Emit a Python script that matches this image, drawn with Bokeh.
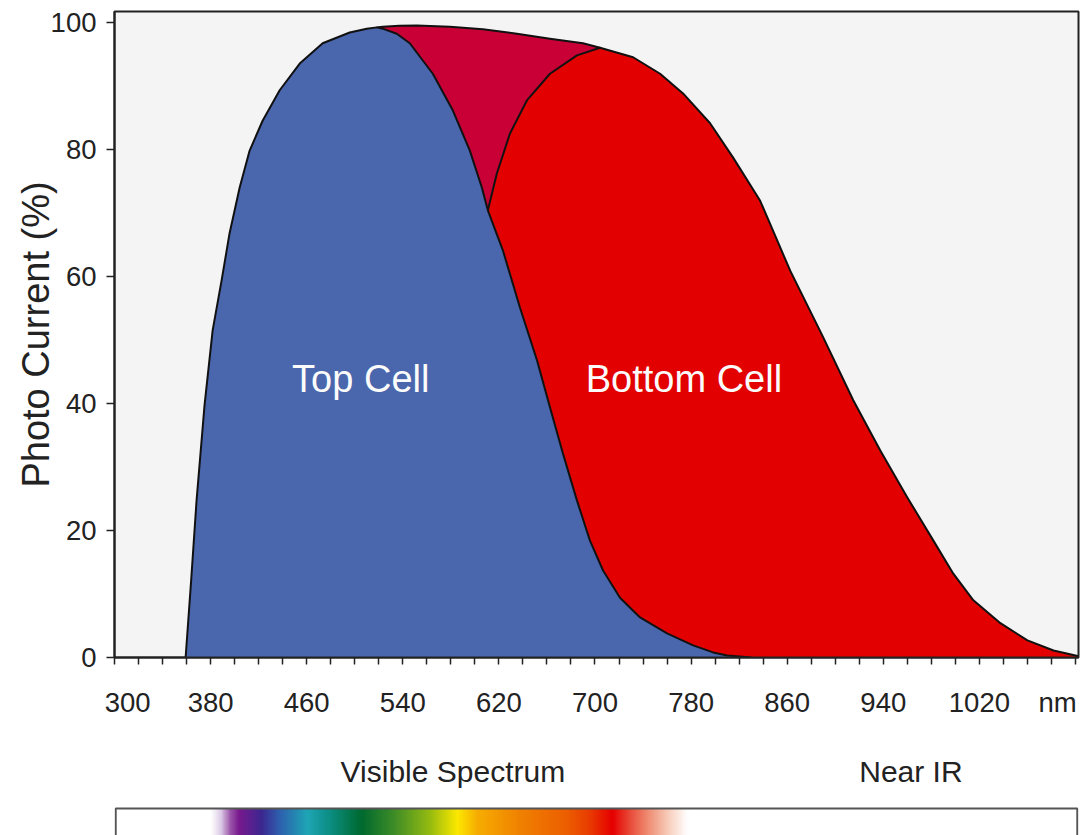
from bokeh.plotting import figure
from bokeh.models import Range1d, FixedTicker
from bokeh.layouts import column
from bokeh.embed import file_html
from bokeh.resources import INLINE
from bokeh.core.properties import value

# ---------------- data ----------------
# Top cell photo current (%) vs wavelength (nm)
top_nm = [359.2, 363.8, 368.3, 375.0, 381.7, 389.2, 395.8, 404.2, 412.5, 423.3,
          437.5, 454.2, 473.3, 495.8, 510.0, 518.3, 523.3, 535.0, 545.8, 565.0,
          581.7, 595.8, 605.8, 610.8, 623.3, 637.5, 651.7, 662.5, 673.3, 685.0,
          695.8, 706.7, 720.8, 737.5, 760.0, 781.7, 798.3, 810.0, 830.0]
top_pc = [0.0, 12.1, 24.7, 39.8, 51.5, 59.4, 66.8, 74.0, 79.8, 84.5,
          89.3, 93.5, 96.7, 98.4, 99.0, 99.2, 99.0, 98.2, 96.7, 91.9,
          86.1, 79.8, 74.0, 70.4, 64.1, 55.1, 46.8, 39.4, 32.1, 24.7,
          18.4, 13.7, 9.4, 6.3, 3.8, 1.9, 0.8, 0.3, 0.0]

# Bottom cell photo current (%) vs wavelength (nm)
bot_nm = [575.0, 580.0, 588.0, 596.0, 604.0, 610.8, 618.3, 629.2, 643.3, 662.5,
          685.0, 704.2, 731.7, 754.2, 773.3, 795.8, 815.0, 837.5, 862.5, 890.0,
          915.0, 937.5, 960.0, 981.7, 998.3, 1015.0, 1037.5, 1060.0, 1081.7, 1100.0, 1102.5]
bot_pc = [0.0, 8.0, 30.0, 50.0, 63.0, 70.4, 76.2, 82.5, 87.7, 91.9,
          94.8, 96.0, 94.5, 91.9, 88.8, 84.1, 78.7, 71.9, 60.9, 50.4,
          40.5, 32.6, 25.2, 18.4, 13.2, 9.0, 5.4, 2.7, 1.1, 0.3, 0.2]

# Combined envelope over the overlap region
env_nm = [518.3, 523.3, 537.0, 551.7, 579.2, 606.7, 635.0, 662.5, 690.0, 704.2]
env_pc = [99.2, 99.3, 99.45, 99.5, 99.3, 98.9, 98.2, 97.4, 96.7, 96.0]

# axis ticks
y_ticks = [0, 20, 40, 60, 80, 100]
x_tick_labels = ["300", "380", "460", "540", "620", "700", "780", "860", "940", "1020", "nm"]
x_label_pos = [311, 380, 460, 540, 620, 700, 780, 860, 940, 1020, 1085]
x_minor = list(range(300, 1101, 20))

# cell labels
cell_names = ["Top Cell", "Bottom Cell"]
cell_x = [505, 774]
cell_y = [43.9, 43.9]

# spectrum bar colour stops (nm, colour)
spec_nm = [380.8, 389.0, 397.0, 404.0, 423.0, 437.5, 461.0, 479.0, 506.0, 533.0,
           562.5, 586.0, 602.0, 637.5, 677.0, 696.0, 715.0, 727.5, 744.0, 761.0, 777.5]
spec_col = ["#ffffff", "#dccbe6", "#9a56aa", "#7a1a8e", "#3c2890", "#2f5fae", "#1fa5b5",
            "#0d8f85", "#006a30", "#3e8c28", "#94ba12", "#fce800", "#f6ae00", "#f08200",
            "#ec5e00", "#e83c00", "#e60000", "#e84232", "#ef8a70", "#f7cbb8", "#ffffff"]

region_names = ["Visible Spectrum", "Near IR"]
region_x = [581.7, 963.0]

FONT = "Liberation Sans"
BLUE = "#4a66ac"
RED = "#e20000"
CRIMSON = "#c80036"
EDGE = "#111111"

# ---------------- main plot ----------------
p1 = figure(width=1088, height=730, x_range=Range1d(300, 1102.5), y_range=Range1d(0, 101.7),
            output_backend="svg", toolbar_location=None,
            min_border_left=114, min_border_right=10, min_border_top=11, min_border_bottom=73)
p1.background_fill_color = "#f4f4f4"
p1.border_fill_color = "white"
p1.xgrid.visible = False
p1.ygrid.visible = False
p1.outline_line_color = "#222222"
p1.outline_line_width = 2

p1.varea(x=env_nm, y1=0, y2=env_pc, fill_color=CRIMSON)
p1.line(env_nm, env_pc, line_color=EDGE, line_width=2, line_join="round")
p1.varea(x=bot_nm, y1=0, y2=bot_pc, fill_color=RED)
p1.line(bot_nm, bot_pc, line_color=EDGE, line_width=2, line_join="round")
p1.varea(x=top_nm, y1=0, y2=top_pc, fill_color=BLUE)
p1.line(top_nm, top_pc, line_color=EDGE, line_width=2, line_join="round")

p1.text(x=cell_x, y=cell_y, text=cell_names, text_align="center", text_baseline="middle",
        text_font=value(FONT), text_font_size="38px", text_color="#fbfbfb")

xa = p1.xaxis[0]
xa.ticker = FixedTicker(ticks=x_label_pos, minor_ticks=x_minor)
xa.major_label_overrides = {pos: lab for pos, lab in zip(x_label_pos, x_tick_labels)}
xa.major_tick_line_color = None
xa.major_tick_out = 7
xa.major_tick_in = 0
xa.minor_tick_out = 7
xa.minor_tick_in = 0
xa.minor_tick_line_color = "#222222"
xa.minor_tick_line_width = 1.5
xa.axis_line_color = "#222222"
xa.axis_line_width = 2
xa.major_label_standoff = 22
xa.major_label_text_font = FONT
xa.major_label_text_font_size = "27.5px"
xa.major_label_text_color = "#222222"

ya = p1.yaxis[0]
ya.ticker = FixedTicker(ticks=y_ticks, minor_ticks=[])
ya.major_tick_out = 8
ya.major_tick_in = 0
ya.major_tick_line_color = "#222222"
ya.major_tick_line_width = 1.5
ya.axis_line_color = "#222222"
ya.axis_line_width = 2
ya.major_label_standoff = 10
ya.major_label_text_font = FONT
ya.major_label_text_font_size = "27.5px"
ya.major_label_text_color = "#222222"
ya.axis_label = "Photo Current (%)"
ya.axis_label_text_font = FONT
ya.axis_label_text_font_size = "38px"
ya.axis_label_text_font_style = "normal"
ya.axis_label_text_color = "#222222"
ya.axis_label_standoff = -9

# ---------------- spectrum strip ----------------
p2 = figure(width=1088, height=105, x_range=p1.x_range, y_range=Range1d(835, 730),
            output_backend="svg", toolbar_location=None,
            x_axis_location=None, y_axis_location=None,
            min_border_left=114, min_border_right=10, min_border_top=0, min_border_bottom=0)
p2.outline_line_color = None
p2.xgrid.visible = False
p2.ygrid.visible = False
p2.background_fill_color = "white"
p2.border_fill_color = "white"


def hex2rgb(h):
    return tuple(int(h[i:i + 2], 16) for i in (1, 3, 5))


lefts, rights, cols = [], [], []
step = 1.0
x = spec_nm[0]
while x < spec_nm[-1]:
    xm = x + step / 2
    for i in range(len(spec_nm) - 1):
        if spec_nm[i] <= xm <= spec_nm[i + 1]:
            t = (xm - spec_nm[i]) / (spec_nm[i + 1] - spec_nm[i])
            c0, c1 = hex2rgb(spec_col[i]), hex2rgb(spec_col[i + 1])
            c = tuple(int(round(a + (b - a) * t)) for a, b in zip(c0, c1))
            cols.append("#%02x%02x%02x" % c)
            break
    lefts.append(x)
    rights.append(x + step * 1.5)
    x += step

p2.quad(left=lefts, right=rights, top=808, bottom=845, fill_color=cols, line_color=cols,
        line_width=1)
p2.quad(left=[301], right=[1101.5], top=[808], bottom=[845], fill_color=None,
        line_color="#555555", line_width=2)

p2.text(x=region_x, y=[771, 771], text=region_names, text_align="center", text_baseline="middle",
        text_font=value(FONT), text_font_size="30px", text_color="#222222")

layout = column(p1, p2)
open("out.html", "w").write(file_html(layout, INLINE))
